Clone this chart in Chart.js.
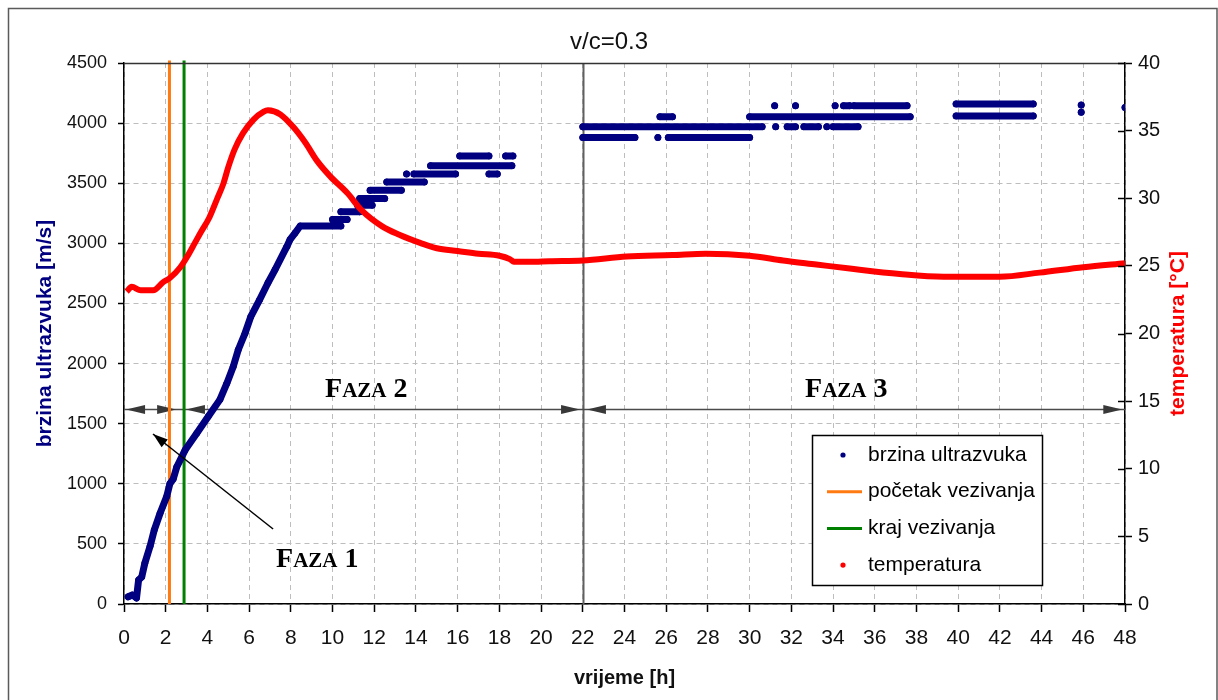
<!DOCTYPE html>
<html>
<head>
<meta charset="utf-8">
<title>v/c=0.3</title>
<script src="https://cdn.jsdelivr.net/npm/chart.js@4"></script>
<style>
  html, body { margin: 0; padding: 0; background: #fff; }
  canvas { display: block; }
</style>
</head>
<body>
<canvas id="chart" width="1218" height="700"></canvas>
<script>
// ultrasonic pulse velocity [m/s] - the steep rise of the first hours
const riseTime  = [0.2, 0.4, 0.6, 0.7, 0.85, 1.0, 1.25, 1.45, 1.73, 2.05, 2.2, 2.36, 2.53, 2.93, 3.49, 4.04, 4.6, 4.93, 5.24, 5.48, 5.8, 6.08, 6.5, 6.9, 7.24, 7.8, 7.96, 8.2, 8.45, 10.4];
const riseValue = [60, 75, 50, 200, 225, 340, 480, 615, 755, 895, 1000, 1040, 1140, 1280, 1420, 1560, 1700, 1835, 1975, 2115, 2250, 2390, 2530, 2670, 2780, 2970, 3030, 3085, 3144, 3144];

// later readings are quantised: each run holds one level from start to end
const runLevel = [3199, 3262, 3317, 3372, 3441, 3510, 3577, 3577, 3577, 3646, 3727, 3727,
                  3880, 3880, 3880, 3970, 3970, 3970, 3970, 3970, 3970, 4053, 4053,
                  4145, 4145, 4145, 4145, 4145, 4060, 4160, 4090, 4150, 4130];
const runStart = [10.0, 10.4, 11.2, 11.3, 11.8, 12.6, 13.55, 13.9, 17.5, 14.7, 16.1, 18.3,
                  22.0, 25.6, 26.1, 22.0, 31.25, 31.8, 32.6, 33.7, 34.0, 25.7, 30.0,
                  31.2, 32.2, 34.1, 34.5, 35.0, 39.9, 39.9, 45.9, 45.9, 48.0];
const runEnd   = [10.7, 11.3, 11.9, 12.5, 13.3, 14.4, 13.55, 15.9, 17.9, 18.6, 17.5, 18.65,
                  24.5, 25.6, 30.0, 30.6, 31.25, 32.2, 33.3, 33.7, 35.2, 26.3, 37.7,
                  31.2, 32.2, 34.1, 34.8, 37.55, 43.6, 43.6, 45.9, 45.9, 48.0];

// temperature [°C]
const tempTime  = [0.13, 0.37, 0.8, 1.4, 1.88, 2.2, 2.7, 3.0, 3.4, 3.65, 4.1, 4.45, 4.77, 5.0, 5.3, 5.7, 6.2, 6.7, 6.9, 7.5, 8.1, 8.7, 9.24, 9.9, 10.7, 11.4, 12.4, 13.2, 14.2, 15.0, 16.0, 17.0, 18.0, 18.5, 18.7, 19.5, 20.4, 22.0, 24.1, 26.3, 27.9, 30.0, 31.6, 33.2, 34.8, 37.2, 39.3, 42.0, 43.9, 46.0, 48.0];
const tempValue = [23.1, 23.45, 23.2, 23.2, 23.8, 24.1, 24.9, 25.6, 26.7, 27.4, 28.6, 29.9, 31.1, 32.3, 33.6, 34.8, 35.8, 36.4, 36.5, 36.2, 35.3, 34.1, 32.8, 31.6, 30.4, 29.1, 27.9, 27.3, 26.7, 26.3, 26.1, 25.9, 25.75, 25.5, 25.3, 25.3, 25.35, 25.4, 25.7, 25.8, 25.9, 25.75, 25.4, 25.1, 24.8, 24.4, 24.2, 24.2, 24.5, 24.9, 25.2];

// initial and final setting time [h]
const setStart = 2.18;
const setEnd = 2.88;
const setLineSpan = [0, 4520];

// phases of hardening along the time axis
const phaseNumber = ['1', '2', '3'];
const phaseFrom   = [0.1, 2.97, 22.2];
const phaseTo     = [2.5, 21.87, 47.87];
const phaseLevel  = 1620;
const phaseSplit  = 22;
const phaseLabelT = [7.29, 9.64, 32.66];
const phaseLabelV = [308, 1724, 1724];
const pointerT = [7.15, 1.39];
const pointerV = [624, 1414];

const pts = (xs, ys) => xs.map((x, i) => ({ x: x, y: ys[i] }));

const speedPoints = pts(riseTime, riseValue);
runLevel.forEach((lvl, i) => {
  speedPoints.push({ x: runStart[i], y: null });
  speedPoints.push({ x: runStart[i], y: lvl });
  if (runEnd[i] !== runStart[i]) speedPoints.push({ x: runEnd[i], y: lvl });
});

const NAVY = '#000080';
const AXIS_FONT = 'Liberation Sans, Arial, sans-serif';

function arrowHead(ctx, x, y, dir, len, half) {
  ctx.beginPath();
  ctx.moveTo(x, y);
  ctx.lineTo(x - dir * len, y - half);
  ctx.lineTo(x - dir * len, y + half);
  ctx.closePath();
  ctx.fill();
}

function smallCaps(ctx, x, y, num) {
  const parts = [['F', 28], ['AZA', 21], [' ' + num, 28]];
  ctx.textBaseline = 'alphabetic';
  ctx.textAlign = 'left';
  parts.forEach(([txt, size]) => {
    ctx.font = 'bold ' + size + 'px "Liberation Serif", "Times New Roman", serif';
    ctx.fillText(txt, x, y);
    x += ctx.measureText(txt).width;
  });
}

const decor = {
  id: 'decor',
  beforeDraw(chart) {
    const ctx = chart.ctx;
    ctx.save();
    ctx.fillStyle = '#fff';
    ctx.fillRect(0, 0, chart.width, chart.height);
    ctx.strokeStyle = '#5a5a5a';
    ctx.lineWidth = 1.5;
    ctx.strokeRect(8.5, 8.5, chart.width - 9.5, chart.height + 20);
    ctx.restore();
  },
  beforeDatasetsDraw(chart) {
    const { ctx, chartArea: a, scales: { x, y } } = chart;
    ctx.save();
    // boundary between phase 2 and 3
    ctx.strokeStyle = '#606060';
    ctx.lineWidth = 2;
    const xs = Math.round(x.getPixelForValue(phaseSplit)) + 0.5;
    ctx.beginPath();
    ctx.moveTo(xs, a.top);
    ctx.lineTo(xs, a.bottom);
    ctx.stroke();
    // phase line with arrow heads
    const py = Math.round(y.getPixelForValue(phaseLevel)) + 0.5;
    ctx.strokeStyle = '#4a4a4a';
    ctx.lineWidth = 1.5;
    ctx.beginPath();
    ctx.moveTo(a.left, py);
    ctx.lineTo(a.right, py);
    ctx.stroke();
    ctx.fillStyle = '#383838';
    phaseFrom.forEach((t, i) => {
      arrowHead(ctx, x.getPixelForValue(t), py, -1, 19, 4.5);
      arrowHead(ctx, x.getPixelForValue(phaseTo[i]), py, 1, 19, 4.5);
    });
    ctx.restore();
  },
  afterDatasetsDraw(chart) {
    const { ctx, chartArea: a, scales: { x, y, y1 } } = chart;
    ctx.save();
    // top edge of the plot frame
    ctx.strokeStyle = '#333';
    ctx.lineWidth = 1.5;
    ctx.beginPath();
    ctx.moveTo(a.left, a.top + 0.5);
    ctx.lineTo(a.right, a.top + 0.5);
    ctx.stroke();
    // right axis ticks cross the axis line
    ctx.strokeStyle = '#000';
    ctx.lineWidth = 1.5;
    y1.ticks.forEach(tk => {
      const ty = Math.round(y1.getPixelForValue(tk.value)) + 0.5;
      ctx.beginPath();
      ctx.moveTo(a.right - 7, ty);
      ctx.lineTo(a.right, ty);
      ctx.stroke();
    });

    // phase labels
    ctx.fillStyle = '#000';
    phaseNumber.forEach((n, i) => {
      smallCaps(ctx, x.getPixelForValue(phaseLabelT[i]), y.getPixelForValue(phaseLabelV[i]), n);
    });

    // pointer from the phase 1 label
    const x0 = x.getPixelForValue(pointerT[0]), y0 = y.getPixelForValue(pointerV[0]);
    const x1 = x.getPixelForValue(pointerT[1]), y1p = y.getPixelForValue(pointerV[1]);
    ctx.strokeStyle = '#000';
    ctx.lineWidth = 1.5;
    ctx.beginPath();
    ctx.moveTo(x0, y0);
    ctx.lineTo(x1, y1p);
    ctx.stroke();
    const ang = Math.atan2(y1p - y0, x1 - x0);
    ctx.translate(x1, y1p);
    ctx.rotate(ang);
    ctx.fillStyle = '#000';
    arrowHead(ctx, 0, 0, 1, 15, 5);
    ctx.setTransform(1, 0, 0, 1, 0, 0);

    // legend
    const box = { l: 812, t: 435, w: 230, h: 150 };
    ctx.fillStyle = '#fff';
    ctx.fillRect(box.l, box.t, box.w, box.h);
    ctx.strokeStyle = '#000';
    ctx.lineWidth = 1.5;
    ctx.strokeRect(box.l + 0.5, box.t + 0.5, box.w, box.h);
    ctx.font = '21px ' + AXIS_FONT;
    ctx.textBaseline = 'middle';
    ctx.textAlign = 'left';
    chart.data.datasets.forEach((ds, i) => {
      const ly = box.t + 20 + i * 36.7;
      if (ds.legendMark === 'line') {
        ctx.strokeStyle = ds.borderColor;
        ctx.lineWidth = 3;
        ctx.beginPath();
        ctx.moveTo(box.l + 15, ly);
        ctx.lineTo(box.l + 50, ly);
        ctx.stroke();
      } else {
        ctx.fillStyle = ds.legendColor;
        ctx.beginPath();
        ctx.arc(box.l + 31, ly, 2.6, 0, Math.PI * 2);
        ctx.fill();
      }
      ctx.fillStyle = '#000';
      ctx.fillText(ds.label, box.l + 56, ly);
    });

    // right axis title, reading upwards
    ctx.translate(1178, (a.top + a.bottom) / 2);
    ctx.rotate(-Math.PI / 2);
    ctx.font = 'bold 21px ' + AXIS_FONT;
    ctx.fillStyle = '#ff0000';
    ctx.textAlign = 'center';
    ctx.fillText('temperatura [°C]', 0, 0);
    ctx.restore();
  }
};

new Chart(document.getElementById('chart'), {
  type: 'line',
  data: {
    datasets: [
      {
        label: 'brzina ultrazvuka',
        legendMark: 'dot',
        legendColor: NAVY,
        data: speedPoints,
        yAxisID: 'y',
        borderColor: NAVY,
        backgroundColor: NAVY,
        borderWidth: 7,
        borderCapStyle: 'round',
        borderJoinStyle: 'round',
        pointRadius: 3,
        pointBorderWidth: 1,
        spanGaps: false,
        order: 1
      },
      {
        label: 'početak vezivanja',
        legendMark: 'line',
        data: [{ x: setStart, y: setLineSpan[0] }, { x: setStart, y: setLineSpan[1] }],
        yAxisID: 'y',
        borderColor: '#ff7a10',
        borderWidth: 3,
        pointRadius: 0,
        clip: false,
        order: 3
      },
      {
        label: 'kraj vezivanja',
        legendMark: 'line',
        data: [{ x: setEnd, y: setLineSpan[0] }, { x: setEnd, y: setLineSpan[1] }],
        yAxisID: 'y',
        borderColor: '#008000',
        borderWidth: 3,
        pointRadius: 0,
        clip: false,
        order: 2
      },
      {
        label: 'temperatura',
        legendMark: 'dot',
        legendColor: '#ff0000',
        data: pts(tempTime, tempValue),
        yAxisID: 'y1',
        borderColor: '#ff0000',
        borderWidth: 6,
        pointRadius: 0,
        cubicInterpolationMode: 'monotone',
        order: 0
      }
    ]
  },
  options: {
    responsive: false,
    animation: false,
    layout: { padding: 0 },
    plugins: {
      legend: { display: false },
      tooltip: { enabled: false },
      title: {
        display: true,
        text: 'v/c=0.3',
        color: '#111',
        font: { family: AXIS_FONT, size: 24, weight: 'normal' },
        padding: { top: 28, bottom: 6.2 }
      }
    },
    scales: {
      x: {
        type: 'linear',
        min: 0,
        max: 48,
        afterFit: s => { s.height = 96; },
        ticks: {
          stepSize: 2,
          autoSkip: false,
          maxRotation: 0,
          padding: 14,
          color: '#111',
          font: { family: AXIS_FONT, size: 21 },
          callback: v => String(v)
        },
        grid: { color: '#bdbdbd', tickColor: '#000', tickLength: 8, tickWidth: 1.5 },
        border: { color: '#000', width: 1.5, dash: [5, 4] },
        title: {
          display: true,
          text: 'vrijeme [h]',
          color: '#111',
          font: { family: AXIS_FONT, size: 20, weight: 'bold' },
          padding: { top: 0, bottom: 10 }
        }
      },
      y: {
        position: 'left',
        min: 0,
        max: 4500,
        afterFit: s => { s.width = 124; },
        ticks: {
          stepSize: 500,
          padding: 11,
          color: '#111',
          font: { family: AXIS_FONT, size: 18 },
          callback: v => String(v)
        },
        grid: { color: '#bdbdbd', tickColor: '#000', tickLength: 6, tickWidth: 1.5 },
        border: { color: '#000', width: 1.5, dash: [5, 4] },
        title: {
          display: true,
          text: 'brzina ultrazvuka [m/s]',
          color: NAVY,
          font: { family: AXIS_FONT, size: 21, weight: 'bold' },
          padding: { top: 33, bottom: 0 }
        }
      },
      y1: {
        position: 'right',
        min: 0,
        max: 40,
        afterFit: s => { s.width = 93; },
        ticks: {
          stepSize: 5,
          padding: 6,
          color: '#111',
          font: { family: AXIS_FONT, size: 20 },
          callback: v => String(v)
        },
        grid: { drawOnChartArea: false, tickColor: '#000', tickLength: 7, tickWidth: 1.5 },
        border: { color: '#000', width: 1.5 }
      }
    }
  },
  plugins: [decor]
});
</script>
</body>
</html>
